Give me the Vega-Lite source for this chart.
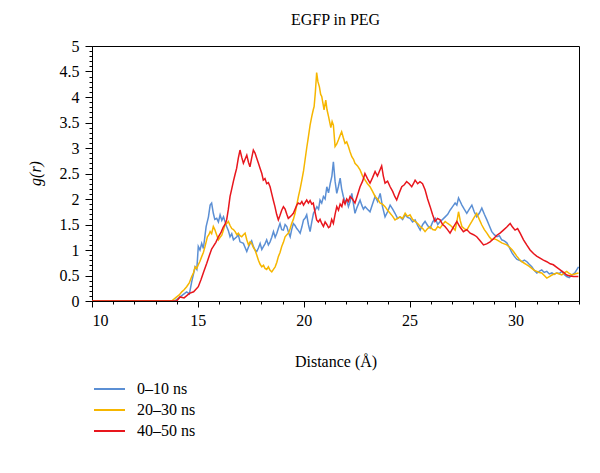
{
  "$schema": "https://vega.github.io/schema/vega-lite/v6.json",
  "autosize": "none",
  "width": 487,
  "height": 255,
  "padding": {"left": 92, "top": 46, "right": 21, "bottom": 172},
  "background": "white",
  "config": {
    "view": {"stroke": "black", "strokeWidth": 1},
    "font": "Liberation Serif",
    "axis": {"domainColor": "black", "tickColor": "black", "labelColor": "black", "titleColor": "black", "labelFont": "Liberation Serif", "titleFont": "Liberation Serif", "labelFontSize": 16, "titleFontSize": 16, "titleFontWeight": "normal", "grid": false}
  },
  "title": {"text": "EGFP in PEG", "font": "Liberation Serif", "fontSize": 16, "fontWeight": "normal", "color": "black", "anchor": "middle", "offset": 10},
  "datasets": {
    "rdf": [
      {"d": 10, "g": 0, "s": "0–10 ns"},
      {"d": 13.9, "g": 0, "s": "0–10 ns"},
      {"d": 14.16, "g": 0.08, "s": "0–10 ns"},
      {"d": 14.47, "g": 0.18, "s": "0–10 ns"},
      {"d": 14.6, "g": 0.14, "s": "0–10 ns"},
      {"d": 14.71, "g": 0.38, "s": "0–10 ns"},
      {"d": 14.87, "g": 0.67, "s": "0–10 ns"},
      {"d": 14.95, "g": 0.62, "s": "0–10 ns"},
      {"d": 15.02, "g": 1.07, "s": "0–10 ns"},
      {"d": 15.1, "g": 1.0, "s": "0–10 ns"},
      {"d": 15.18, "g": 1.13, "s": "0–10 ns"},
      {"d": 15.26, "g": 1.03, "s": "0–10 ns"},
      {"d": 15.39, "g": 1.46, "s": "0–10 ns"},
      {"d": 15.5, "g": 1.65, "s": "0–10 ns"},
      {"d": 15.58, "g": 1.88, "s": "0–10 ns"},
      {"d": 15.65, "g": 1.92, "s": "0–10 ns"},
      {"d": 15.73, "g": 1.72, "s": "0–10 ns"},
      {"d": 15.8, "g": 1.6, "s": "0–10 ns"},
      {"d": 15.89, "g": 1.62, "s": "0–10 ns"},
      {"d": 15.97, "g": 1.55, "s": "0–10 ns"},
      {"d": 16.05, "g": 1.69, "s": "0–10 ns"},
      {"d": 16.13, "g": 1.58, "s": "0–10 ns"},
      {"d": 16.21, "g": 1.65, "s": "0–10 ns"},
      {"d": 16.36, "g": 1.46, "s": "0–10 ns"},
      {"d": 16.44, "g": 1.38, "s": "0–10 ns"},
      {"d": 16.52, "g": 1.26, "s": "0–10 ns"},
      {"d": 16.6, "g": 1.32, "s": "0–10 ns"},
      {"d": 16.68, "g": 1.2, "s": "0–10 ns"},
      {"d": 16.84, "g": 1.26, "s": "0–10 ns"},
      {"d": 16.91, "g": 1.3, "s": "0–10 ns"},
      {"d": 16.99, "g": 1.16, "s": "0–10 ns"},
      {"d": 17.15, "g": 1.13, "s": "0–10 ns"},
      {"d": 17.23, "g": 1.05, "s": "0–10 ns"},
      {"d": 17.31, "g": 0.97, "s": "0–10 ns"},
      {"d": 17.39, "g": 1.06, "s": "0–10 ns"},
      {"d": 17.47, "g": 1.13, "s": "0–10 ns"},
      {"d": 17.54, "g": 1.18, "s": "0–10 ns"},
      {"d": 17.62, "g": 1.07, "s": "0–10 ns"},
      {"d": 17.7, "g": 1.0, "s": "0–10 ns"},
      {"d": 17.78, "g": 0.97, "s": "0–10 ns"},
      {"d": 17.86, "g": 1.04, "s": "0–10 ns"},
      {"d": 17.94, "g": 1.13, "s": "0–10 ns"},
      {"d": 18.02, "g": 1.01, "s": "0–10 ns"},
      {"d": 18.1, "g": 1.07, "s": "0–10 ns"},
      {"d": 18.17, "g": 1.12, "s": "0–10 ns"},
      {"d": 18.25, "g": 1.2, "s": "0–10 ns"},
      {"d": 18.33, "g": 1.1, "s": "0–10 ns"},
      {"d": 18.41, "g": 1.16, "s": "0–10 ns"},
      {"d": 18.49, "g": 1.25, "s": "0–10 ns"},
      {"d": 18.57, "g": 1.36, "s": "0–10 ns"},
      {"d": 18.65, "g": 1.25, "s": "0–10 ns"},
      {"d": 18.73, "g": 1.33, "s": "0–10 ns"},
      {"d": 18.8, "g": 1.42, "s": "0–10 ns"},
      {"d": 18.88, "g": 1.52, "s": "0–10 ns"},
      {"d": 18.96, "g": 1.4, "s": "0–10 ns"},
      {"d": 19.04, "g": 1.39, "s": "0–10 ns"},
      {"d": 19.12, "g": 1.5, "s": "0–10 ns"},
      {"d": 19.2, "g": 1.46, "s": "0–10 ns"},
      {"d": 19.28, "g": 1.35, "s": "0–10 ns"},
      {"d": 19.36, "g": 1.26, "s": "0–10 ns"},
      {"d": 19.43, "g": 1.4, "s": "0–10 ns"},
      {"d": 19.51, "g": 1.52, "s": "0–10 ns"},
      {"d": 19.59, "g": 1.48, "s": "0–10 ns"},
      {"d": 19.67, "g": 1.42, "s": "0–10 ns"},
      {"d": 19.75, "g": 1.38, "s": "0–10 ns"},
      {"d": 19.83, "g": 1.33, "s": "0–10 ns"},
      {"d": 19.91, "g": 1.45, "s": "0–10 ns"},
      {"d": 19.99, "g": 1.59, "s": "0–10 ns"},
      {"d": 20.06, "g": 1.62, "s": "0–10 ns"},
      {"d": 20.14, "g": 1.69, "s": "0–10 ns"},
      {"d": 20.22, "g": 1.5, "s": "0–10 ns"},
      {"d": 20.3, "g": 1.36, "s": "0–10 ns"},
      {"d": 20.38, "g": 1.55, "s": "0–10 ns"},
      {"d": 20.46, "g": 1.72, "s": "0–10 ns"},
      {"d": 20.54, "g": 1.78, "s": "0–10 ns"},
      {"d": 20.62, "g": 1.85, "s": "0–10 ns"},
      {"d": 20.7, "g": 1.8, "s": "0–10 ns"},
      {"d": 20.77, "g": 1.98, "s": "0–10 ns"},
      {"d": 20.85, "g": 1.92, "s": "0–10 ns"},
      {"d": 20.93, "g": 2.05, "s": "0–10 ns"},
      {"d": 21.01, "g": 2.0, "s": "0–10 ns"},
      {"d": 21.09, "g": 2.24, "s": "0–10 ns"},
      {"d": 21.17, "g": 2.12, "s": "0–10 ns"},
      {"d": 21.25, "g": 2.3, "s": "0–10 ns"},
      {"d": 21.33, "g": 2.45, "s": "0–10 ns"},
      {"d": 21.4, "g": 2.73, "s": "0–10 ns"},
      {"d": 21.48, "g": 2.35, "s": "0–10 ns"},
      {"d": 21.56, "g": 2.11, "s": "0–10 ns"},
      {"d": 21.64, "g": 2.25, "s": "0–10 ns"},
      {"d": 21.72, "g": 2.41, "s": "0–10 ns"},
      {"d": 21.79, "g": 2.2, "s": "0–10 ns"},
      {"d": 21.87, "g": 2.05, "s": "0–10 ns"},
      {"d": 21.95, "g": 1.95, "s": "0–10 ns"},
      {"d": 22.03, "g": 1.98, "s": "0–10 ns"},
      {"d": 22.11, "g": 1.85, "s": "0–10 ns"},
      {"d": 22.19, "g": 1.95, "s": "0–10 ns"},
      {"d": 22.27, "g": 2.11, "s": "0–10 ns"},
      {"d": 22.35, "g": 1.9, "s": "0–10 ns"},
      {"d": 22.42, "g": 1.72, "s": "0–10 ns"},
      {"d": 22.5, "g": 1.82, "s": "0–10 ns"},
      {"d": 22.58, "g": 1.9, "s": "0–10 ns"},
      {"d": 22.66, "g": 1.98, "s": "0–10 ns"},
      {"d": 22.74, "g": 1.88, "s": "0–10 ns"},
      {"d": 22.82, "g": 1.8, "s": "0–10 ns"},
      {"d": 22.9, "g": 1.85, "s": "0–10 ns"},
      {"d": 23.01, "g": 1.8, "s": "0–10 ns"},
      {"d": 23.13, "g": 1.75, "s": "0–10 ns"},
      {"d": 23.25, "g": 1.9, "s": "0–10 ns"},
      {"d": 23.37, "g": 2.05, "s": "0–10 ns"},
      {"d": 23.49, "g": 1.95, "s": "0–10 ns"},
      {"d": 23.61, "g": 2.11, "s": "0–10 ns"},
      {"d": 23.72, "g": 1.85, "s": "0–10 ns"},
      {"d": 23.84, "g": 1.65, "s": "0–10 ns"},
      {"d": 23.96, "g": 1.75, "s": "0–10 ns"},
      {"d": 24.08, "g": 1.88, "s": "0–10 ns"},
      {"d": 24.2, "g": 1.8, "s": "0–10 ns"},
      {"d": 24.31, "g": 1.72, "s": "0–10 ns"},
      {"d": 24.43, "g": 1.62, "s": "0–10 ns"},
      {"d": 24.55, "g": 1.65, "s": "0–10 ns"},
      {"d": 24.67, "g": 1.6, "s": "0–10 ns"},
      {"d": 24.79, "g": 1.69, "s": "0–10 ns"},
      {"d": 24.9, "g": 1.64, "s": "0–10 ns"},
      {"d": 25.02, "g": 1.62, "s": "0–10 ns"},
      {"d": 25.14, "g": 1.55, "s": "0–10 ns"},
      {"d": 25.26, "g": 1.59, "s": "0–10 ns"},
      {"d": 25.38, "g": 1.48, "s": "0–10 ns"},
      {"d": 25.5, "g": 1.39, "s": "0–10 ns"},
      {"d": 25.62, "g": 1.5, "s": "0–10 ns"},
      {"d": 25.73, "g": 1.56, "s": "0–10 ns"},
      {"d": 25.85, "g": 1.48, "s": "0–10 ns"},
      {"d": 25.97, "g": 1.43, "s": "0–10 ns"},
      {"d": 26.09, "g": 1.55, "s": "0–10 ns"},
      {"d": 26.21, "g": 1.62, "s": "0–10 ns"},
      {"d": 26.33, "g": 1.5, "s": "0–10 ns"},
      {"d": 26.44, "g": 1.56, "s": "0–10 ns"},
      {"d": 26.56, "g": 1.6, "s": "0–10 ns"},
      {"d": 26.68, "g": 1.65, "s": "0–10 ns"},
      {"d": 26.8, "g": 1.7, "s": "0–10 ns"},
      {"d": 26.91, "g": 1.78, "s": "0–10 ns"},
      {"d": 27.03, "g": 1.85, "s": "0–10 ns"},
      {"d": 27.15, "g": 1.92, "s": "0–10 ns"},
      {"d": 27.23, "g": 1.88, "s": "0–10 ns"},
      {"d": 27.31, "g": 2.02, "s": "0–10 ns"},
      {"d": 27.39, "g": 1.95, "s": "0–10 ns"},
      {"d": 27.47, "g": 1.88, "s": "0–10 ns"},
      {"d": 27.58, "g": 1.8, "s": "0–10 ns"},
      {"d": 27.7, "g": 1.72, "s": "0–10 ns"},
      {"d": 27.82, "g": 1.8, "s": "0–10 ns"},
      {"d": 27.94, "g": 1.88, "s": "0–10 ns"},
      {"d": 28.05, "g": 1.75, "s": "0–10 ns"},
      {"d": 28.17, "g": 1.65, "s": "0–10 ns"},
      {"d": 28.29, "g": 1.72, "s": "0–10 ns"},
      {"d": 28.41, "g": 1.82, "s": "0–10 ns"},
      {"d": 28.53, "g": 1.7, "s": "0–10 ns"},
      {"d": 28.65, "g": 1.59, "s": "0–10 ns"},
      {"d": 28.76, "g": 1.48, "s": "0–10 ns"},
      {"d": 28.88, "g": 1.36, "s": "0–10 ns"},
      {"d": 29.0, "g": 1.3, "s": "0–10 ns"},
      {"d": 29.12, "g": 1.26, "s": "0–10 ns"},
      {"d": 29.24, "g": 1.28, "s": "0–10 ns"},
      {"d": 29.35, "g": 1.2, "s": "0–10 ns"},
      {"d": 29.47, "g": 1.18, "s": "0–10 ns"},
      {"d": 29.59, "g": 1.14, "s": "0–10 ns"},
      {"d": 29.71, "g": 1.05, "s": "0–10 ns"},
      {"d": 29.83, "g": 0.95, "s": "0–10 ns"},
      {"d": 29.94, "g": 0.88, "s": "0–10 ns"},
      {"d": 30.06, "g": 0.82, "s": "0–10 ns"},
      {"d": 30.18, "g": 0.8, "s": "0–10 ns"},
      {"d": 30.3, "g": 0.77, "s": "0–10 ns"},
      {"d": 30.42, "g": 0.8, "s": "0–10 ns"},
      {"d": 30.54, "g": 0.77, "s": "0–10 ns"},
      {"d": 30.65, "g": 0.72, "s": "0–10 ns"},
      {"d": 30.77, "g": 0.67, "s": "0–10 ns"},
      {"d": 30.89, "g": 0.6, "s": "0–10 ns"},
      {"d": 31.01, "g": 0.55, "s": "0–10 ns"},
      {"d": 31.12, "g": 0.58, "s": "0–10 ns"},
      {"d": 31.24, "g": 0.61, "s": "0–10 ns"},
      {"d": 31.36, "g": 0.56, "s": "0–10 ns"},
      {"d": 31.48, "g": 0.58, "s": "0–10 ns"},
      {"d": 31.6, "g": 0.53, "s": "0–10 ns"},
      {"d": 31.72, "g": 0.55, "s": "0–10 ns"},
      {"d": 31.83, "g": 0.52, "s": "0–10 ns"},
      {"d": 31.95, "g": 0.55, "s": "0–10 ns"},
      {"d": 32.07, "g": 0.54, "s": "0–10 ns"},
      {"d": 32.19, "g": 0.58, "s": "0–10 ns"},
      {"d": 32.3, "g": 0.52, "s": "0–10 ns"},
      {"d": 32.42, "g": 0.48, "s": "0–10 ns"},
      {"d": 32.54, "g": 0.46, "s": "0–10 ns"},
      {"d": 32.66, "g": 0.51, "s": "0–10 ns"},
      {"d": 32.8, "g": 0.55, "s": "0–10 ns"},
      {"d": 32.98, "g": 0.67, "s": "0–10 ns"},

      {"d": 10, "g": 0, "s": "20–30 ns"},
      {"d": 13.76, "g": 0, "s": "20–30 ns"},
      {"d": 14.0, "g": 0.08, "s": "20–30 ns"},
      {"d": 14.12, "g": 0.12, "s": "20–30 ns"},
      {"d": 14.24, "g": 0.18, "s": "20–30 ns"},
      {"d": 14.35, "g": 0.22, "s": "20–30 ns"},
      {"d": 14.47, "g": 0.28, "s": "20–30 ns"},
      {"d": 14.6, "g": 0.36, "s": "20–30 ns"},
      {"d": 14.71, "g": 0.48, "s": "20–30 ns"},
      {"d": 14.79, "g": 0.55, "s": "20–30 ns"},
      {"d": 14.87, "g": 0.67, "s": "20–30 ns"},
      {"d": 14.95, "g": 0.64, "s": "20–30 ns"},
      {"d": 15.02, "g": 0.71, "s": "20–30 ns"},
      {"d": 15.1, "g": 0.78, "s": "20–30 ns"},
      {"d": 15.18, "g": 0.87, "s": "20–30 ns"},
      {"d": 15.26, "g": 0.95, "s": "20–30 ns"},
      {"d": 15.34, "g": 1.07, "s": "20–30 ns"},
      {"d": 15.45, "g": 1.26, "s": "20–30 ns"},
      {"d": 15.52, "g": 1.3, "s": "20–30 ns"},
      {"d": 15.58, "g": 1.36, "s": "20–30 ns"},
      {"d": 15.65, "g": 1.32, "s": "20–30 ns"},
      {"d": 15.73, "g": 1.46, "s": "20–30 ns"},
      {"d": 15.8, "g": 1.4, "s": "20–30 ns"},
      {"d": 15.86, "g": 1.33, "s": "20–30 ns"},
      {"d": 15.97, "g": 1.2, "s": "20–30 ns"},
      {"d": 16.05, "g": 1.25, "s": "20–30 ns"},
      {"d": 16.13, "g": 1.29, "s": "20–30 ns"},
      {"d": 16.2, "g": 1.38, "s": "20–30 ns"},
      {"d": 16.28, "g": 1.49, "s": "20–30 ns"},
      {"d": 16.36, "g": 1.52, "s": "20–30 ns"},
      {"d": 16.44, "g": 1.56, "s": "20–30 ns"},
      {"d": 16.52, "g": 1.48, "s": "20–30 ns"},
      {"d": 16.6, "g": 1.42, "s": "20–30 ns"},
      {"d": 16.68, "g": 1.4, "s": "20–30 ns"},
      {"d": 16.76, "g": 1.36, "s": "20–30 ns"},
      {"d": 16.84, "g": 1.3, "s": "20–30 ns"},
      {"d": 16.91, "g": 1.33, "s": "20–30 ns"},
      {"d": 16.99, "g": 1.28, "s": "20–30 ns"},
      {"d": 17.07, "g": 1.26, "s": "20–30 ns"},
      {"d": 17.15, "g": 1.3, "s": "20–30 ns"},
      {"d": 17.23, "g": 1.33, "s": "20–30 ns"},
      {"d": 17.31, "g": 1.2, "s": "20–30 ns"},
      {"d": 17.39, "g": 1.1, "s": "20–30 ns"},
      {"d": 17.47, "g": 1.16, "s": "20–30 ns"},
      {"d": 17.54, "g": 1.13, "s": "20–30 ns"},
      {"d": 17.62, "g": 1.05, "s": "20–30 ns"},
      {"d": 17.7, "g": 1.0, "s": "20–30 ns"},
      {"d": 17.78, "g": 0.9, "s": "20–30 ns"},
      {"d": 17.86, "g": 0.8, "s": "20–30 ns"},
      {"d": 17.94, "g": 0.72, "s": "20–30 ns"},
      {"d": 18.02, "g": 0.67, "s": "20–30 ns"},
      {"d": 18.1, "g": 0.7, "s": "20–30 ns"},
      {"d": 18.17, "g": 0.64, "s": "20–30 ns"},
      {"d": 18.25, "g": 0.62, "s": "20–30 ns"},
      {"d": 18.33, "g": 0.67, "s": "20–30 ns"},
      {"d": 18.41, "g": 0.6, "s": "20–30 ns"},
      {"d": 18.49, "g": 0.57, "s": "20–30 ns"},
      {"d": 18.57, "g": 0.62, "s": "20–30 ns"},
      {"d": 18.65, "g": 0.67, "s": "20–30 ns"},
      {"d": 18.73, "g": 0.76, "s": "20–30 ns"},
      {"d": 18.8, "g": 0.87, "s": "20–30 ns"},
      {"d": 18.88, "g": 0.95, "s": "20–30 ns"},
      {"d": 18.96, "g": 1.07, "s": "20–30 ns"},
      {"d": 19.04, "g": 1.15, "s": "20–30 ns"},
      {"d": 19.12, "g": 1.26, "s": "20–30 ns"},
      {"d": 19.2, "g": 1.3, "s": "20–30 ns"},
      {"d": 19.28, "g": 1.33, "s": "20–30 ns"},
      {"d": 19.36, "g": 1.42, "s": "20–30 ns"},
      {"d": 19.43, "g": 1.52, "s": "20–30 ns"},
      {"d": 19.51, "g": 1.6, "s": "20–30 ns"},
      {"d": 19.59, "g": 1.72, "s": "20–30 ns"},
      {"d": 19.67, "g": 1.88, "s": "20–30 ns"},
      {"d": 19.75, "g": 2.05, "s": "20–30 ns"},
      {"d": 19.83, "g": 2.2, "s": "20–30 ns"},
      {"d": 19.91, "g": 2.37, "s": "20–30 ns"},
      {"d": 19.99, "g": 2.55, "s": "20–30 ns"},
      {"d": 20.06, "g": 2.76, "s": "20–30 ns"},
      {"d": 20.14, "g": 3.0, "s": "20–30 ns"},
      {"d": 20.22, "g": 3.22, "s": "20–30 ns"},
      {"d": 20.3, "g": 3.45, "s": "20–30 ns"},
      {"d": 20.38, "g": 3.62, "s": "20–30 ns"},
      {"d": 20.45, "g": 3.75, "s": "20–30 ns"},
      {"d": 20.49, "g": 3.81, "s": "20–30 ns"},
      {"d": 20.55, "g": 4.1, "s": "20–30 ns"},
      {"d": 20.61, "g": 4.48, "s": "20–30 ns"},
      {"d": 20.67, "g": 4.3, "s": "20–30 ns"},
      {"d": 20.74, "g": 4.2, "s": "20–30 ns"},
      {"d": 20.8, "g": 4.05, "s": "20–30 ns"},
      {"d": 20.85, "g": 4.01, "s": "20–30 ns"},
      {"d": 20.96, "g": 3.75, "s": "20–30 ns"},
      {"d": 21.04, "g": 3.94, "s": "20–30 ns"},
      {"d": 21.1, "g": 3.75, "s": "20–30 ns"},
      {"d": 21.17, "g": 3.62, "s": "20–30 ns"},
      {"d": 21.28, "g": 3.4, "s": "20–30 ns"},
      {"d": 21.34, "g": 3.52, "s": "20–30 ns"},
      {"d": 21.4, "g": 3.45, "s": "20–30 ns"},
      {"d": 21.48, "g": 3.03, "s": "20–30 ns"},
      {"d": 21.56, "g": 3.08, "s": "20–30 ns"},
      {"d": 21.64, "g": 3.16, "s": "20–30 ns"},
      {"d": 21.72, "g": 3.25, "s": "20–30 ns"},
      {"d": 21.79, "g": 3.32, "s": "20–30 ns"},
      {"d": 21.87, "g": 3.2, "s": "20–30 ns"},
      {"d": 21.95, "g": 3.09, "s": "20–30 ns"},
      {"d": 22.03, "g": 3.12, "s": "20–30 ns"},
      {"d": 22.11, "g": 3.03, "s": "20–30 ns"},
      {"d": 22.19, "g": 2.92, "s": "20–30 ns"},
      {"d": 22.27, "g": 2.83, "s": "20–30 ns"},
      {"d": 22.35, "g": 2.78, "s": "20–30 ns"},
      {"d": 22.42, "g": 2.7, "s": "20–30 ns"},
      {"d": 22.54, "g": 2.65, "s": "20–30 ns"},
      {"d": 22.66, "g": 2.57, "s": "20–30 ns"},
      {"d": 22.78, "g": 2.45, "s": "20–30 ns"},
      {"d": 22.9, "g": 2.37, "s": "20–30 ns"},
      {"d": 23.01, "g": 2.3, "s": "20–30 ns"},
      {"d": 23.13, "g": 2.24, "s": "20–30 ns"},
      {"d": 23.25, "g": 2.15, "s": "20–30 ns"},
      {"d": 23.37, "g": 2.05, "s": "20–30 ns"},
      {"d": 23.49, "g": 2.0, "s": "20–30 ns"},
      {"d": 23.61, "g": 1.92, "s": "20–30 ns"},
      {"d": 23.72, "g": 1.9, "s": "20–30 ns"},
      {"d": 23.84, "g": 1.85, "s": "20–30 ns"},
      {"d": 23.96, "g": 1.78, "s": "20–30 ns"},
      {"d": 24.08, "g": 1.72, "s": "20–30 ns"},
      {"d": 24.2, "g": 1.66, "s": "20–30 ns"},
      {"d": 24.31, "g": 1.59, "s": "20–30 ns"},
      {"d": 24.43, "g": 1.62, "s": "20–30 ns"},
      {"d": 24.55, "g": 1.65, "s": "20–30 ns"},
      {"d": 24.67, "g": 1.62, "s": "20–30 ns"},
      {"d": 24.79, "g": 1.72, "s": "20–30 ns"},
      {"d": 24.9, "g": 1.66, "s": "20–30 ns"},
      {"d": 25.02, "g": 1.69, "s": "20–30 ns"},
      {"d": 25.14, "g": 1.6, "s": "20–30 ns"},
      {"d": 25.26, "g": 1.56, "s": "20–30 ns"},
      {"d": 25.38, "g": 1.52, "s": "20–30 ns"},
      {"d": 25.5, "g": 1.46, "s": "20–30 ns"},
      {"d": 25.62, "g": 1.42, "s": "20–30 ns"},
      {"d": 25.73, "g": 1.36, "s": "20–30 ns"},
      {"d": 25.85, "g": 1.42, "s": "20–30 ns"},
      {"d": 25.97, "g": 1.46, "s": "20–30 ns"},
      {"d": 26.09, "g": 1.4, "s": "20–30 ns"},
      {"d": 26.21, "g": 1.39, "s": "20–30 ns"},
      {"d": 26.33, "g": 1.46, "s": "20–30 ns"},
      {"d": 26.44, "g": 1.43, "s": "20–30 ns"},
      {"d": 26.56, "g": 1.5, "s": "20–30 ns"},
      {"d": 26.68, "g": 1.56, "s": "20–30 ns"},
      {"d": 26.8, "g": 1.52, "s": "20–30 ns"},
      {"d": 26.91, "g": 1.49, "s": "20–30 ns"},
      {"d": 27.03, "g": 1.44, "s": "20–30 ns"},
      {"d": 27.15, "g": 1.39, "s": "20–30 ns"},
      {"d": 27.23, "g": 1.55, "s": "20–30 ns"},
      {"d": 27.31, "g": 1.75, "s": "20–30 ns"},
      {"d": 27.39, "g": 1.58, "s": "20–30 ns"},
      {"d": 27.47, "g": 1.46, "s": "20–30 ns"},
      {"d": 27.58, "g": 1.42, "s": "20–30 ns"},
      {"d": 27.7, "g": 1.39, "s": "20–30 ns"},
      {"d": 27.82, "g": 1.48, "s": "20–30 ns"},
      {"d": 27.94, "g": 1.56, "s": "20–30 ns"},
      {"d": 28.05, "g": 1.64, "s": "20–30 ns"},
      {"d": 28.17, "g": 1.72, "s": "20–30 ns"},
      {"d": 28.29, "g": 1.6, "s": "20–30 ns"},
      {"d": 28.41, "g": 1.49, "s": "20–30 ns"},
      {"d": 28.53, "g": 1.4, "s": "20–30 ns"},
      {"d": 28.65, "g": 1.33, "s": "20–30 ns"},
      {"d": 28.76, "g": 1.26, "s": "20–30 ns"},
      {"d": 28.88, "g": 1.2, "s": "20–30 ns"},
      {"d": 29.0, "g": 1.22, "s": "20–30 ns"},
      {"d": 29.12, "g": 1.2, "s": "20–30 ns"},
      {"d": 29.24, "g": 1.17, "s": "20–30 ns"},
      {"d": 29.35, "g": 1.14, "s": "20–30 ns"},
      {"d": 29.47, "g": 1.12, "s": "20–30 ns"},
      {"d": 29.59, "g": 1.1, "s": "20–30 ns"},
      {"d": 29.71, "g": 1.06, "s": "20–30 ns"},
      {"d": 29.83, "g": 1.01, "s": "20–30 ns"},
      {"d": 29.94, "g": 0.95, "s": "20–30 ns"},
      {"d": 30.06, "g": 0.88, "s": "20–30 ns"},
      {"d": 30.18, "g": 0.82, "s": "20–30 ns"},
      {"d": 30.3, "g": 0.77, "s": "20–30 ns"},
      {"d": 30.42, "g": 0.74, "s": "20–30 ns"},
      {"d": 30.54, "g": 0.71, "s": "20–30 ns"},
      {"d": 30.65, "g": 0.68, "s": "20–30 ns"},
      {"d": 30.77, "g": 0.64, "s": "20–30 ns"},
      {"d": 30.89, "g": 0.6, "s": "20–30 ns"},
      {"d": 31.01, "g": 0.58, "s": "20–30 ns"},
      {"d": 31.12, "g": 0.56, "s": "20–30 ns"},
      {"d": 31.24, "g": 0.55, "s": "20–30 ns"},
      {"d": 31.36, "g": 0.5, "s": "20–30 ns"},
      {"d": 31.48, "g": 0.45, "s": "20–30 ns"},
      {"d": 31.6, "g": 0.48, "s": "20–30 ns"},
      {"d": 31.72, "g": 0.51, "s": "20–30 ns"},
      {"d": 31.83, "g": 0.53, "s": "20–30 ns"},
      {"d": 31.95, "g": 0.55, "s": "20–30 ns"},
      {"d": 32.07, "g": 0.53, "s": "20–30 ns"},
      {"d": 32.19, "g": 0.51, "s": "20–30 ns"},
      {"d": 32.3, "g": 0.55, "s": "20–30 ns"},
      {"d": 32.42, "g": 0.58, "s": "20–30 ns"},
      {"d": 32.54, "g": 0.54, "s": "20–30 ns"},
      {"d": 32.66, "g": 0.51, "s": "20–30 ns"},
      {"d": 32.8, "g": 0.53, "s": "20–30 ns"},
      {"d": 32.98, "g": 0.55, "s": "20–30 ns"},

      {"d": 10, "g": 0, "s": "40–50 ns"},
      {"d": 14.0, "g": 0, "s": "40–50 ns"},
      {"d": 14.16, "g": 0.08, "s": "40–50 ns"},
      {"d": 14.35, "g": 0.06, "s": "40–50 ns"},
      {"d": 14.6, "g": 0.15, "s": "40–50 ns"},
      {"d": 14.8, "g": 0.18, "s": "40–50 ns"},
      {"d": 15.02, "g": 0.28, "s": "40–50 ns"},
      {"d": 15.15, "g": 0.42, "s": "40–50 ns"},
      {"d": 15.28, "g": 0.58, "s": "40–50 ns"},
      {"d": 15.42, "g": 0.74, "s": "40–50 ns"},
      {"d": 15.55, "g": 0.9, "s": "40–50 ns"},
      {"d": 15.65, "g": 1.02, "s": "40–50 ns"},
      {"d": 15.73, "g": 1.07, "s": "40–50 ns"},
      {"d": 15.85, "g": 1.15, "s": "40–50 ns"},
      {"d": 15.97, "g": 1.26, "s": "40–50 ns"},
      {"d": 16.1, "g": 1.35, "s": "40–50 ns"},
      {"d": 16.2, "g": 1.45, "s": "40–50 ns"},
      {"d": 16.28, "g": 1.5, "s": "40–50 ns"},
      {"d": 16.36, "g": 1.59, "s": "40–50 ns"},
      {"d": 16.44, "g": 1.8, "s": "40–50 ns"},
      {"d": 16.52, "g": 2.05, "s": "40–50 ns"},
      {"d": 16.6, "g": 2.2, "s": "40–50 ns"},
      {"d": 16.68, "g": 2.35, "s": "40–50 ns"},
      {"d": 16.75, "g": 2.47, "s": "40–50 ns"},
      {"d": 16.83, "g": 2.6, "s": "40–50 ns"},
      {"d": 16.91, "g": 2.8, "s": "40–50 ns"},
      {"d": 16.99, "g": 2.96, "s": "40–50 ns"},
      {"d": 17.07, "g": 2.82, "s": "40–50 ns"},
      {"d": 17.15, "g": 2.7, "s": "40–50 ns"},
      {"d": 17.23, "g": 2.78, "s": "40–50 ns"},
      {"d": 17.31, "g": 2.86, "s": "40–50 ns"},
      {"d": 17.39, "g": 2.72, "s": "40–50 ns"},
      {"d": 17.46, "g": 2.63, "s": "40–50 ns"},
      {"d": 17.54, "g": 2.8, "s": "40–50 ns"},
      {"d": 17.62, "g": 2.96, "s": "40–50 ns"},
      {"d": 17.7, "g": 2.9, "s": "40–50 ns"},
      {"d": 17.78, "g": 2.8, "s": "40–50 ns"},
      {"d": 17.86, "g": 2.7, "s": "40–50 ns"},
      {"d": 17.94, "g": 2.6, "s": "40–50 ns"},
      {"d": 18.02, "g": 2.5, "s": "40–50 ns"},
      {"d": 18.09, "g": 2.37, "s": "40–50 ns"},
      {"d": 18.17, "g": 2.4, "s": "40–50 ns"},
      {"d": 18.25, "g": 2.3, "s": "40–50 ns"},
      {"d": 18.33, "g": 2.32, "s": "40–50 ns"},
      {"d": 18.41, "g": 2.24, "s": "40–50 ns"},
      {"d": 18.49, "g": 2.1, "s": "40–50 ns"},
      {"d": 18.56, "g": 1.98, "s": "40–50 ns"},
      {"d": 18.64, "g": 1.85, "s": "40–50 ns"},
      {"d": 18.72, "g": 1.7, "s": "40–50 ns"},
      {"d": 18.8, "g": 1.59, "s": "40–50 ns"},
      {"d": 18.88, "g": 1.68, "s": "40–50 ns"},
      {"d": 18.96, "g": 1.78, "s": "40–50 ns"},
      {"d": 19.04, "g": 1.85, "s": "40–50 ns"},
      {"d": 19.12, "g": 1.8, "s": "40–50 ns"},
      {"d": 19.2, "g": 1.7, "s": "40–50 ns"},
      {"d": 19.27, "g": 1.62, "s": "40–50 ns"},
      {"d": 19.35, "g": 1.65, "s": "40–50 ns"},
      {"d": 19.43, "g": 1.68, "s": "40–50 ns"},
      {"d": 19.51, "g": 1.72, "s": "40–50 ns"},
      {"d": 19.59, "g": 1.8, "s": "40–50 ns"},
      {"d": 19.67, "g": 1.88, "s": "40–50 ns"},
      {"d": 19.74, "g": 1.92, "s": "40–50 ns"},
      {"d": 19.83, "g": 1.9, "s": "40–50 ns"},
      {"d": 19.91, "g": 1.95, "s": "40–50 ns"},
      {"d": 19.99, "g": 1.88, "s": "40–50 ns"},
      {"d": 20.06, "g": 1.93, "s": "40–50 ns"},
      {"d": 20.14, "g": 1.98, "s": "40–50 ns"},
      {"d": 20.22, "g": 1.92, "s": "40–50 ns"},
      {"d": 20.3, "g": 1.97, "s": "40–50 ns"},
      {"d": 20.38, "g": 1.9, "s": "40–50 ns"},
      {"d": 20.45, "g": 1.92, "s": "40–50 ns"},
      {"d": 20.53, "g": 1.75, "s": "40–50 ns"},
      {"d": 20.61, "g": 1.59, "s": "40–50 ns"},
      {"d": 20.69, "g": 1.55, "s": "40–50 ns"},
      {"d": 20.77, "g": 1.6, "s": "40–50 ns"},
      {"d": 20.85, "g": 1.52, "s": "40–50 ns"},
      {"d": 20.93, "g": 1.46, "s": "40–50 ns"},
      {"d": 21.01, "g": 1.55, "s": "40–50 ns"},
      {"d": 21.09, "g": 1.5, "s": "40–50 ns"},
      {"d": 21.17, "g": 1.44, "s": "40–50 ns"},
      {"d": 21.24, "g": 1.46, "s": "40–50 ns"},
      {"d": 21.32, "g": 1.6, "s": "40–50 ns"},
      {"d": 21.4, "g": 1.52, "s": "40–50 ns"},
      {"d": 21.48, "g": 1.7, "s": "40–50 ns"},
      {"d": 21.56, "g": 1.85, "s": "40–50 ns"},
      {"d": 21.64, "g": 1.78, "s": "40–50 ns"},
      {"d": 21.72, "g": 1.9, "s": "40–50 ns"},
      {"d": 21.8, "g": 1.85, "s": "40–50 ns"},
      {"d": 21.87, "g": 1.98, "s": "40–50 ns"},
      {"d": 21.95, "g": 1.9, "s": "40–50 ns"},
      {"d": 22.03, "g": 2.0, "s": "40–50 ns"},
      {"d": 22.11, "g": 1.95, "s": "40–50 ns"},
      {"d": 22.19, "g": 2.05, "s": "40–50 ns"},
      {"d": 22.3, "g": 2.0, "s": "40–50 ns"},
      {"d": 22.42, "g": 1.92, "s": "40–50 ns"},
      {"d": 22.54, "g": 2.08, "s": "40–50 ns"},
      {"d": 22.66, "g": 2.24, "s": "40–50 ns"},
      {"d": 22.78, "g": 2.35, "s": "40–50 ns"},
      {"d": 22.89, "g": 2.5, "s": "40–50 ns"},
      {"d": 23.01, "g": 2.4, "s": "40–50 ns"},
      {"d": 23.13, "g": 2.31, "s": "40–50 ns"},
      {"d": 23.25, "g": 2.42, "s": "40–50 ns"},
      {"d": 23.37, "g": 2.54, "s": "40–50 ns"},
      {"d": 23.48, "g": 2.45, "s": "40–50 ns"},
      {"d": 23.58, "g": 2.55, "s": "40–50 ns"},
      {"d": 23.68, "g": 2.65, "s": "40–50 ns"},
      {"d": 23.76, "g": 2.45, "s": "40–50 ns"},
      {"d": 23.84, "g": 2.31, "s": "40–50 ns"},
      {"d": 23.96, "g": 2.35, "s": "40–50 ns"},
      {"d": 24.08, "g": 2.24, "s": "40–50 ns"},
      {"d": 24.2, "g": 2.15, "s": "40–50 ns"},
      {"d": 24.3, "g": 2.05, "s": "40–50 ns"},
      {"d": 24.39, "g": 1.98, "s": "40–50 ns"},
      {"d": 24.51, "g": 2.12, "s": "40–50 ns"},
      {"d": 24.63, "g": 2.24, "s": "40–50 ns"},
      {"d": 24.75, "g": 2.28, "s": "40–50 ns"},
      {"d": 24.86, "g": 2.34, "s": "40–50 ns"},
      {"d": 24.98, "g": 2.3, "s": "40–50 ns"},
      {"d": 25.1, "g": 2.24, "s": "40–50 ns"},
      {"d": 25.18, "g": 2.3, "s": "40–50 ns"},
      {"d": 25.26, "g": 2.37, "s": "40–50 ns"},
      {"d": 25.38, "g": 2.3, "s": "40–50 ns"},
      {"d": 25.49, "g": 2.34, "s": "40–50 ns"},
      {"d": 25.61, "g": 2.3, "s": "40–50 ns"},
      {"d": 25.73, "g": 2.18, "s": "40–50 ns"},
      {"d": 25.85, "g": 2.0, "s": "40–50 ns"},
      {"d": 25.97, "g": 1.85, "s": "40–50 ns"},
      {"d": 26.08, "g": 1.7, "s": "40–50 ns"},
      {"d": 26.2, "g": 1.56, "s": "40–50 ns"},
      {"d": 26.32, "g": 1.62, "s": "40–50 ns"},
      {"d": 26.44, "g": 1.59, "s": "40–50 ns"},
      {"d": 26.56, "g": 1.5, "s": "40–50 ns"},
      {"d": 26.67, "g": 1.46, "s": "40–50 ns"},
      {"d": 26.79, "g": 1.4, "s": "40–50 ns"},
      {"d": 26.91, "g": 1.33, "s": "40–50 ns"},
      {"d": 27.07, "g": 1.45, "s": "40–50 ns"},
      {"d": 27.23, "g": 1.56, "s": "40–50 ns"},
      {"d": 27.38, "g": 1.45, "s": "40–50 ns"},
      {"d": 27.54, "g": 1.36, "s": "40–50 ns"},
      {"d": 27.7, "g": 1.4, "s": "40–50 ns"},
      {"d": 27.86, "g": 1.33, "s": "40–50 ns"},
      {"d": 28.02, "g": 1.3, "s": "40–50 ns"},
      {"d": 28.17, "g": 1.26, "s": "40–50 ns"},
      {"d": 28.33, "g": 1.18, "s": "40–50 ns"},
      {"d": 28.49, "g": 1.1, "s": "40–50 ns"},
      {"d": 28.64, "g": 1.12, "s": "40–50 ns"},
      {"d": 28.8, "g": 1.16, "s": "40–50 ns"},
      {"d": 28.96, "g": 1.22, "s": "40–50 ns"},
      {"d": 29.12, "g": 1.29, "s": "40–50 ns"},
      {"d": 29.27, "g": 1.33, "s": "40–50 ns"},
      {"d": 29.43, "g": 1.39, "s": "40–50 ns"},
      {"d": 29.59, "g": 1.45, "s": "40–50 ns"},
      {"d": 29.75, "g": 1.52, "s": "40–50 ns"},
      {"d": 29.86, "g": 1.45, "s": "40–50 ns"},
      {"d": 29.98, "g": 1.39, "s": "40–50 ns"},
      {"d": 30.1, "g": 1.42, "s": "40–50 ns"},
      {"d": 30.22, "g": 1.33, "s": "40–50 ns"},
      {"d": 30.38, "g": 1.2, "s": "40–50 ns"},
      {"d": 30.53, "g": 1.1, "s": "40–50 ns"},
      {"d": 30.69, "g": 1.0, "s": "40–50 ns"},
      {"d": 30.85, "g": 0.93, "s": "40–50 ns"},
      {"d": 31.0, "g": 0.88, "s": "40–50 ns"},
      {"d": 31.16, "g": 0.84, "s": "40–50 ns"},
      {"d": 31.32, "g": 0.8, "s": "40–50 ns"},
      {"d": 31.48, "g": 0.77, "s": "40–50 ns"},
      {"d": 31.64, "g": 0.73, "s": "40–50 ns"},
      {"d": 31.79, "g": 0.71, "s": "40–50 ns"},
      {"d": 31.95, "g": 0.66, "s": "40–50 ns"},
      {"d": 32.11, "g": 0.61, "s": "40–50 ns"},
      {"d": 32.27, "g": 0.56, "s": "40–50 ns"},
      {"d": 32.42, "g": 0.51, "s": "40–50 ns"},
      {"d": 32.58, "g": 0.49, "s": "40–50 ns"},
      {"d": 32.74, "g": 0.48, "s": "40–50 ns"},
      {"d": 32.97, "g": 0.48, "s": "40–50 ns"}
    ]
  },
  "data": {"name": "rdf"},
  "mark": {"type": "line", "strokeWidth": 1.5, "clip": true},
  "encoding": {
    "x": {"field": "d", "type": "quantitative", "scale": {"domain": [10, 33], "nice": false, "zero": false},
      "axis": {"orient": "bottom", "title": "Distance (Å)",
        "values": [10, 11, 12, 13, 14, 15, 16, 17, 18, 19, 20, 21, 22, 23, 24, 25, 26, 27, 28, 29, 30, 31, 32, 33],
        "labelExpr": "datum.value % 5 === 0 ? format(datum.value, 'd') : ''",
        "tickSize": {"condition": {"test": "datum.value % 5 === 0", "value": 6}, "value": 3},
        "labelPadding": 5, "titleY": 65, "titleBaseline": "alphabetic"}},
    "y": {"field": "g", "type": "quantitative", "scale": {"domain": [0, 5], "nice": false},
      "axis": {"orient": "left", "title": "g(r)", "titleFontStyle": "italic",
        "values": [0, 0.1, 0.2, 0.3, 0.4, 0.5, 0.6, 0.7, 0.8, 0.9, 1, 1.1, 1.2, 1.3, 1.4, 1.5, 1.6, 1.7, 1.8, 1.9, 2, 2.1, 2.2, 2.3, 2.4, 2.5, 2.6, 2.7, 2.8, 2.9, 3, 3.1, 3.2, 3.3, 3.4, 3.5, 3.6, 3.7, 3.8, 3.9, 4, 4.1, 4.2, 4.3, 4.4, 4.5, 4.6, 4.7, 4.8, 4.9, 5],
        "labelExpr": "abs(datum.value * 2 - round(datum.value * 2)) < 0.001 ? format(datum.value, '~g') : ''",
        "tickSize": {"condition": {"test": "abs(datum.value * 2 - round(datum.value * 2)) < 0.001", "value": 7}, "value": 3},
        "labelPadding": 6, "labelOverlap": false, "titleX": -57, "titleY": 127, "titleAngle": -90, "titleBaseline": "middle", "titleAlign": "center"}},
    "color": {"field": "s", "type": "nominal", "scale": {"domain": ["0–10 ns", "20–30 ns", "40–50 ns"], "range": ["#5b8fd4", "#f6b600", "#e8161d"]},
      "legend": {"title": null, "orient": "none", "legendX": 1, "legendY": 335, "direction": "vertical", "symbolType": "stroke", "symbolSize": 961, "symbolStrokeWidth": 2, "labelFont": "Liberation Serif", "labelFontSize": 16, "labelColor": "black", "labelOffset": 11, "clipHeight": 16, "rowPadding": 5, "padding": 0}}
  }
}
